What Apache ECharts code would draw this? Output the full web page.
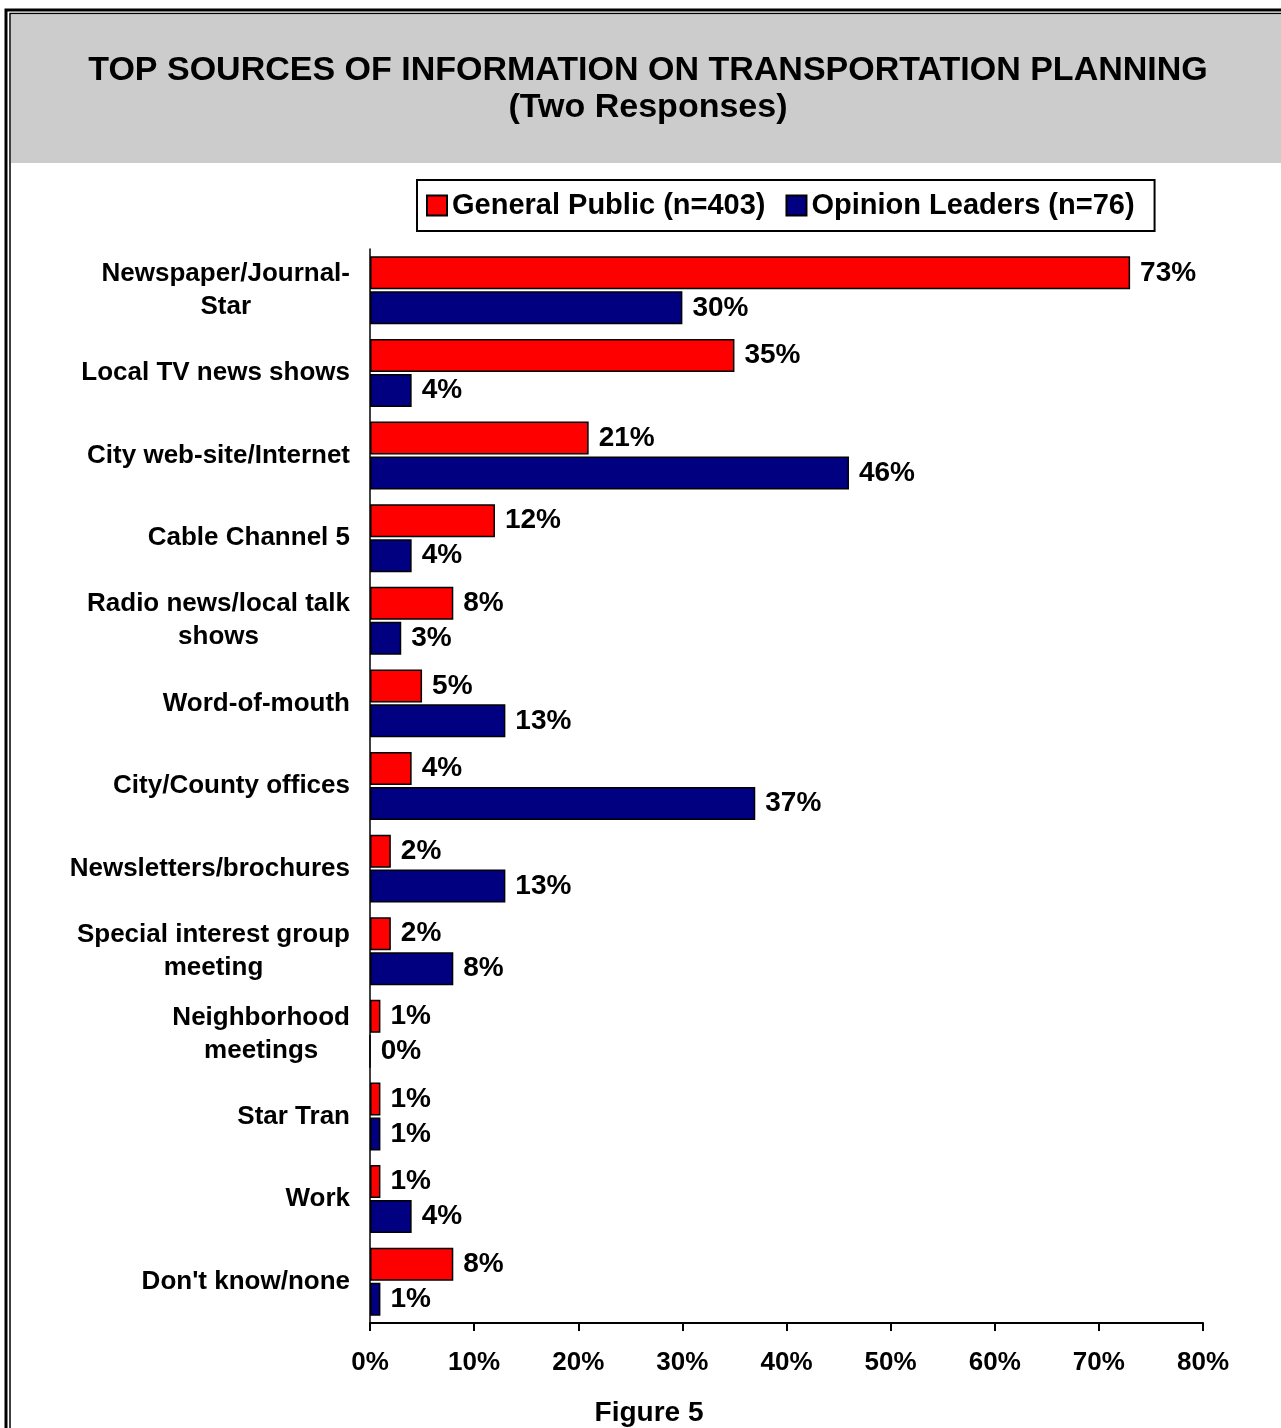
<!doctype html>
<html>
    <head>
        <meta charset="utf-8">
        <title>Top sources of information on transportation planning</title>
        <style>
            html, body { margin: 0; padding: 0; background: #fff; }
            #main { width: 1281px; height: 1428px; }
        </style>
    </head>
    <body>
        <div id="main"></div>
        <script src="https://cdn.jsdelivr.net/npm/echarts@6/dist/echarts.min.js"></script>
        <script>
            var categories = [
                'Newspaper/Journal-\nStar',
                'Local TV news shows',
                'City web-site/Internet',
                'Cable Channel 5',
                'Radio news/local talk\nshows',
                'Word-of-mouth',
                'City/County offices',
                'Newsletters/brochures',
                'Special interest group\nmeeting',
                'Neighborhood\nmeetings',
                'Star Tran',
                'Work',
                "Don't know/none"
            ];
            var generalPublic = [73, 35, 21, 12, 8, 5, 4, 2, 2, 1, 1, 1, 8];
            var opinionLeaders = [30, 4, 46, 4, 3, 13, 37, 13, 8, 0, 1, 4, 1];
            var seriesNames = ['General Public (n=403)', 'Opinion Leaders (n=76)'];

            var FONT = 'Arial, "Liberation Sans", sans-serif';
            var chart = echarts.init(document.getElementById('main'));

            // each line of a category label is centred inside a right-aligned block
            function catLabel(value) {
                return value.split('\n').map(function (line) {
                    return '{c|' + line + '}';
                }).join('\n');
            }

            function barSeries(name, data, color) {
                return {
                    type: 'bar',
                    name: name,
                    data: data,
                    barWidth: 33,
                    barGap: '6%',
                    itemStyle: {
                        color: color,
                        borderColor: '#000',
                        borderWidth: 1.5
                    },
                    label: {
                        show: true,
                        position: 'right',
                        distance: 10,
                        formatter: '{c}%',
                        color: '#000',
                        fontFamily: FONT,
                        fontWeight: 'bold',
                        fontSize: 28
                    },
                    emphasis: { disabled: true }
                };
            }

            chart.setOption({
                animation: false,
                backgroundColor: '#fff',
                graphic: [
                    {
                        type: 'rect',
                        silent: true,
                        z: -10,
                        shape: { x: 11, y: 15, width: 1300, height: 148 },
                        style: { fill: '#cccccc' }
                    },
                    {
                        type: 'rect',
                        silent: true,
                        shape: { x: 6, y: 10, width: 1400, height: 1500 },
                        style: { fill: null, stroke: '#000', lineWidth: 3 }
                    },
                    {
                        type: 'rect',
                        silent: true,
                        shape: { x: 10, y: 13.5, width: 1400, height: 1500 },
                        style: { fill: null, stroke: '#000', lineWidth: 1.5 }
                    }
                ],
                title: [
                    {
                        text: 'TOP SOURCES OF INFORMATION ON TRANSPORTATION PLANNING\n(Two Responses)',
                        left: 648,
                        top: 52,
                        padding: 0,
                        textAlign: 'center',
                        textStyle: {
                            fontFamily: FONT,
                            fontWeight: 'bold',
                            fontSize: 34,
                            lineHeight: 37,
                            color: '#000'
                        }
                    },
                    {
                        text: 'Figure 5',
                        left: 649,
                        top: 1399,
                        padding: 0,
                        textAlign: 'center',
                        textStyle: {
                            fontFamily: FONT,
                            fontWeight: 'bold',
                            fontSize: 28,
                            lineHeight: 28,
                            color: '#000'
                        }
                    }
                ],
                legend: {
                    data: seriesNames,
                    left: 417,
                    top: 180,
                    orient: 'horizontal',
                    padding: [11, 20, 11, 9],
                    itemGap: 20,
                    itemWidth: 20,
                    itemHeight: 20,
                    icon: 'rect',
                    borderColor: '#000',
                    borderWidth: 2,
                    backgroundColor: '#fff',
                    selectedMode: false,
                    textStyle: {
                        fontFamily: FONT,
                        fontWeight: 'bold',
                        fontSize: 29,
                        color: '#000'
                    }
                },
                grid: {
                    left: 370,
                    right: 78,
                    top: 249,
                    bottom: 105,
                    containLabel: false,
                    outerBoundsMode: 'none'
                },
                xAxis: {
                    type: 'value',
                    min: 0,
                    max: 80,
                    interval: 10,
                    splitLine: { show: false },
                    axisLine: { show: true, lineStyle: { color: '#000', width: 2 } },
                    axisTick: { show: true, length: 8, lineStyle: { color: '#000', width: 2 } },
                    axisLabel: {
                        formatter: '{value}%',
                        margin: 27,
                        color: '#000',
                        fontFamily: FONT,
                        fontWeight: 'bold',
                        fontSize: 26
                    }
                },
                yAxis: {
                    type: 'category',
                    data: categories,
                    inverse: true,
                    axisLine: { show: true, lineStyle: { color: '#000', width: 1.5 } },
                    axisTick: { show: false },
                    axisLabel: {
                        margin: 20,
                        align: 'right',
                        formatter: catLabel,
                        color: '#000',
                        fontFamily: FONT,
                        fontWeight: 'bold',
                        fontSize: 26,
                        lineHeight: 33,
                        rich: {
                            c: {
                                align: 'center',
                                color: '#000',
                                fontFamily: FONT,
                                fontWeight: 'bold',
                                fontSize: 26,
                                lineHeight: 33
                            }
                        }
                    }
                },
                series: [
                    barSeries(seriesNames[0], generalPublic, '#ff0000'),
                    barSeries(seriesNames[1], opinionLeaders, '#000080')
                ]
            });

            window.addEventListener('resize', chart.resize);
        </script>
    </body>
</html>
